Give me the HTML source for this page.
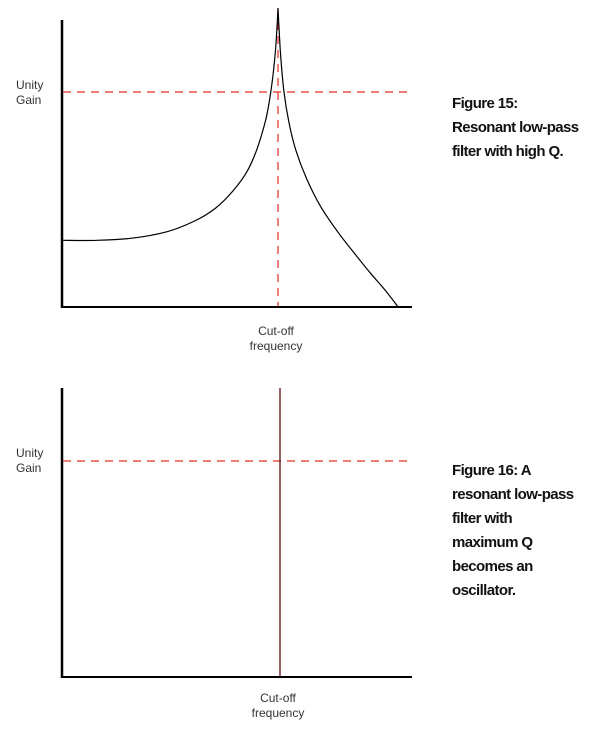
<!DOCTYPE html>
<html><head><meta charset="utf-8"><style>
body{margin:0;background:#fff;width:601px;height:743px;overflow:hidden}
svg{display:block}
.lbl{font-family:"Liberation Sans",sans-serif;font-size:12px;fill:#333}
.cap{font-family:"Liberation Sans",sans-serif;font-size:15px;font-weight:bold;fill:#111;letter-spacing:-0.6px}
</style></head><body>
<svg id="c" width="601" height="743" viewBox="0 0 601 743">
<g>
<line x1="62" y1="20" x2="62" y2="308" stroke="#000" stroke-width="2.5"/>
<line x1="61" y1="307" x2="412" y2="307" stroke="#000" stroke-width="2"/>
<line x1="63" y1="92" x2="411" y2="92" stroke="#e03020" stroke-width="1.2" stroke-dasharray="8,6"/>
<line x1="278" y1="8" x2="278" y2="306" stroke="#e03020" stroke-width="1.2" stroke-dasharray="8,6"/>
<path id="curve" fill="none" stroke="#000" stroke-width="1.2"/>
<text class="lbl" x="16" y="89">Unity</text>
<text class="lbl" x="16" y="104">Gain</text>
<text class="lbl" x="276" y="335" text-anchor="middle">Cut-off</text>
<text class="lbl" x="276" y="350" text-anchor="middle">frequency</text>
<text class="cap" x="452" y="108">Figure 15:</text>
<text class="cap" x="452" y="132">Resonant low-pass</text>
<text class="cap" x="452" y="156">filter with high Q.</text>
</g>
<g>
<line x1="62" y1="388" x2="62" y2="678" stroke="#000" stroke-width="2.5"/>
<line x1="61" y1="677" x2="412" y2="677" stroke="#000" stroke-width="2"/>
<line x1="63" y1="461" x2="411" y2="461" stroke="#e03020" stroke-width="1.2" stroke-dasharray="8,6"/>
<line x1="280" y1="388" x2="280" y2="676" stroke="#5a1010" stroke-width="1.3"/>
<text class="lbl" x="16" y="457">Unity</text>
<text class="lbl" x="16" y="472">Gain</text>
<text class="lbl" x="278" y="702" text-anchor="middle">Cut-off</text>
<text class="lbl" x="278" y="717" text-anchor="middle">frequency</text>
<text class="cap" x="452" y="475">Figure 16: A</text>
<text class="cap" x="452" y="499">resonant low-pass</text>
<text class="cap" x="452" y="523">filter with</text>
<text class="cap" x="452" y="547">maximum Q</text>
<text class="cap" x="452" y="571">becomes an</text>
<text class="cap" x="452" y="595">oscillator.</text>
</g>
</svg>
<script>
const leftFreq=[0,.1,.2,.3,.38,.44,.49,.53,.56,.585,.60,.612,.619];
const leftGain=[.31,.31,.32,.35,.40,.46,.54,.63,.74,.88,1.02,1.2,1.39];
const rightFreq=[.619,.626,.636,.65,.67,.70,.74,.79,.84,.885,.925,.963];
const rightGain=[1.39,1.18,1.0,.86,.73,.60,.47,.35,.245,.155,.08,0];
const xs=f=>62+f*349, ys=g=>307-g*215;
function spline(F,G){
  const p=F.map((f,i)=>[xs(f),ys(G[i])]);
  let d='M'+p[0][0].toFixed(1)+','+p[0][1].toFixed(1);
  for(let i=0;i<p.length-1;i++){
    const p0=p[i-1]||p[i],p1=p[i],p2=p[i+1],p3=p[i+2]||p2;
    const c1=[p1[0]+(p2[0]-p0[0])/6,p1[1]+(p2[1]-p0[1])/6];
    const c2=[p2[0]-(p3[0]-p1[0])/6,p2[1]-(p3[1]-p1[1])/6];
    d+='C'+c1.map(v=>v.toFixed(1))+' '+c2.map(v=>v.toFixed(1))+' '+p2.map(v=>v.toFixed(1));
  }
  return d;
}
document.getElementById('curve').setAttribute('d',spline(leftFreq,leftGain)+spline(rightFreq,rightGain));
</script>
</body></html>
